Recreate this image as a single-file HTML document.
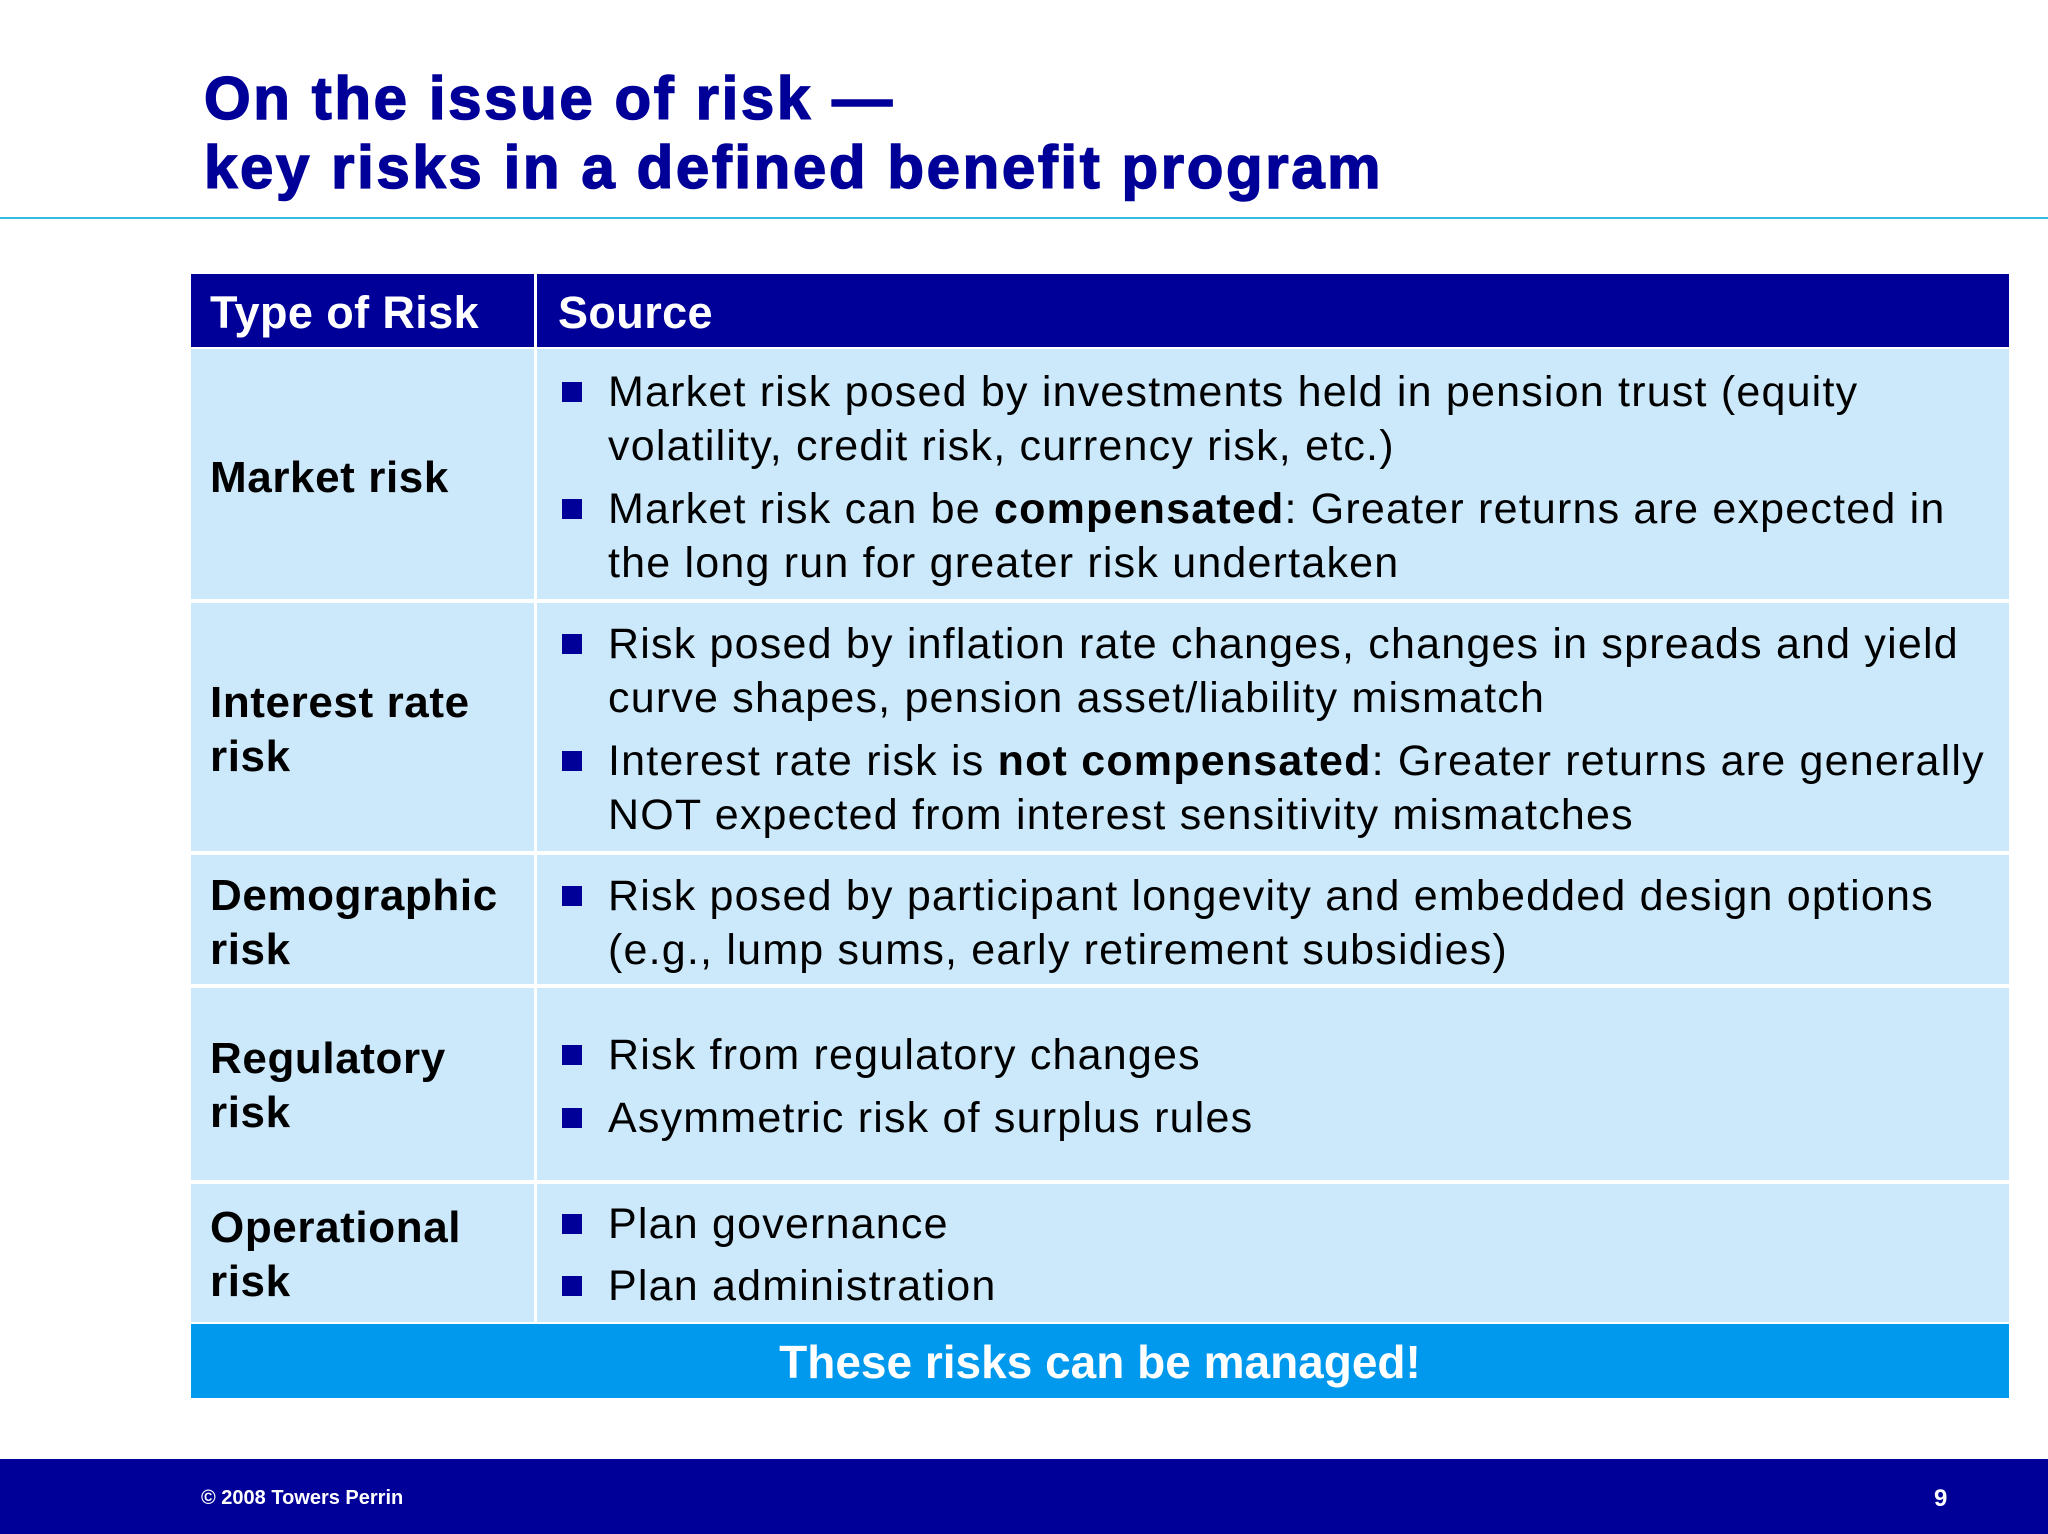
<!DOCTYPE html>
<html><head><meta charset="utf-8"><style>
body{margin:0;width:2048px;height:1534px;position:relative;background:#fff;font-family:"Liberation Sans",Arial,sans-serif;overflow:hidden}
.a{position:absolute}
.t{color:#000099;font-weight:bold;font-size:60px;letter-spacing:2.6px;-webkit-text-stroke:1.5px #000099;left:204px;line-height:70px;white-space:nowrap}
.l{position:absolute;left:608px;font-size:43px;letter-spacing:1.2px;line-height:54px;white-space:nowrap;color:#000}
.lb{position:absolute;left:210px;font-size:44px;letter-spacing:0.6px;font-weight:bold;line-height:54px;white-space:nowrap;color:#000}
.sq{position:absolute;left:562px;width:20px;height:20px;background:#000099}
.row{position:absolute;left:191px;width:1818px;background:#cce9fb}
</style></head><body>
<div class="a t" style="top:64px">On the issue of risk —</div>
<div class="a t" style="top:133px">key risks in a defined benefit program</div>
<div class="a" style="left:0;top:217px;width:2048px;height:2px;background:#33bbdd"></div>

<div class="a" style="left:191px;top:274px;width:1818px;height:73px;background:#000099"></div>
<div class="a" style="left:210px;top:286px;font-size:45px;letter-spacing:0.4px;font-weight:bold;color:#fff;line-height:54px">Type of Risk</div>
<div class="a" style="left:558px;top:286px;font-size:45px;letter-spacing:0.4px;font-weight:bold;color:#fff;line-height:54px">Source</div>

<div class="row" style="top:349px;height:250px"></div>
<div class="row" style="top:603px;height:248px"></div>
<div class="row" style="top:855px;height:129px"></div>
<div class="row" style="top:988px;height:192px"></div>
<div class="row" style="top:1184px;height:138px"></div>
<div class="a" style="left:534px;top:274px;width:3px;height:1048px;background:#fff"></div>

<div class="lb" style="top:451px">Market risk</div>
<div class="lb" style="top:676px">Interest rate<br>risk</div>
<div class="lb" style="top:869px">Demographic<br>risk</div>
<div class="lb" style="top:1032px">Regulatory<br>risk</div>
<div class="lb" style="top:1201px">Operational<br>risk</div>

<div class="sq" style="top:382px"></div>
<div class="l" style="top:365px">Market risk posed by investments held in pension trust (equity<br>volatility, credit risk, currency risk, etc.)</div>
<div class="sq" style="top:499px"></div>
<div class="l" style="top:482px">Market risk can be <b>compensated</b>: Greater returns are expected in<br>the long run for greater risk undertaken</div>
<div class="sq" style="top:634px"></div>
<div class="l" style="top:617px">Risk posed by inflation rate changes, changes in spreads and yield<br>curve shapes, pension asset/liability mismatch</div>
<div class="sq" style="top:751px"></div>
<div class="l" style="top:734px">Interest rate risk is <b>not compensated</b>: Greater returns are generally<br>NOT expected from interest sensitivity mismatches</div>
<div class="sq" style="top:886px"></div>
<div class="l" style="top:869px">Risk posed by participant longevity and embedded design options<br>(e.g., lump sums, early retirement subsidies)</div>
<div class="sq" style="top:1045px"></div>
<div class="l" style="top:1028px">Risk from regulatory changes</div>
<div class="sq" style="top:1108px"></div>
<div class="l" style="top:1091px">Asymmetric risk of surplus rules</div>
<div class="sq" style="top:1214px"></div>
<div class="l" style="top:1197px">Plan governance</div>
<div class="sq" style="top:1276px"></div>
<div class="l" style="top:1259px">Plan administration</div>

<div class="a" style="left:191px;top:1324px;width:1818px;height:74px;background:#0099ee;color:#fff;font-size:46px;font-weight:bold;text-align:center;line-height:76px">These risks can be managed!</div>

<div class="a" style="left:0;top:1459px;width:2048px;height:75px;background:#000099"></div>
<div class="a" style="left:201px;top:1486px;color:#fff;font-size:20px;font-weight:bold;line-height:24px">© 2008 Towers Perrin</div>
<div class="a" style="left:1934px;top:1485px;color:#fff;font-size:24px;font-weight:bold;line-height:28px">9</div>
</body></html>
